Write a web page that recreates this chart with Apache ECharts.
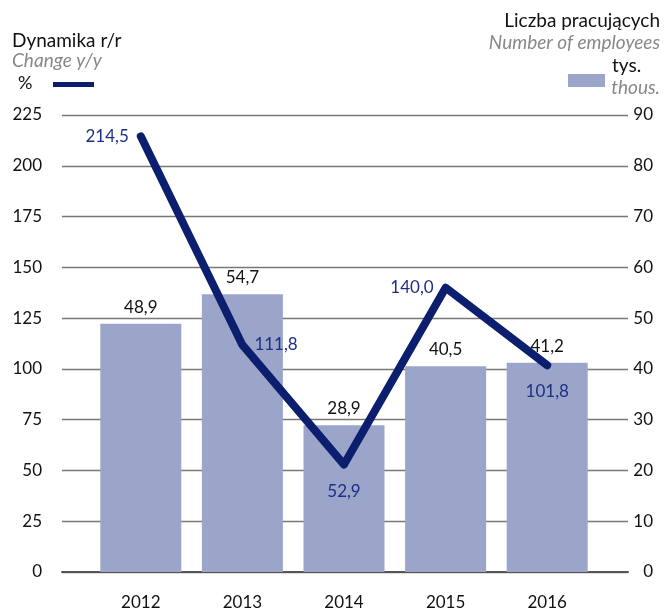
<!DOCTYPE html>
<html>
<head>
<meta charset="utf-8">
<script src="https://cdn.jsdelivr.net/npm/echarts@6/dist/echarts.min.js"></script>
<style>
  html, body { margin: 0; padding: 0; background: #fff; }
  #chart { width: 666px; height: 611px; }
</style>
</head>
<body>
<div id="chart"></div>
<script>
  var years = ['2012', '2013', '2014', '2015', '2016'];
  // liczba pracujących, tys.
  var employees = [48.9, 54.7, 28.9, 40.5, 41.2];
  // dynamika r/r, %
  var changeYY = [214.5, 111.8, 52.9, 140.0, 101.8];
  // pozycje etykiet linii
  var linePos = ['left', 'right', 'bottom', 'left', 'bottom'];

  var FONT = 'Lato';
  var navy = '#0c1f6e';
  var barColor = '#9aa5c9';

  var chart = echarts.init(document.getElementById('chart'));

  function pl(v) { return v.toFixed(1).replace('.', ','); }

  var lineData = changeYY.map(function (v, i) {
    return {
      value: v,
      label: { position: linePos[i], distance: linePos[i] === 'bottom' ? 17 : 11 }
    };
  });

  var option = {
    animation: false,
    textStyle: { fontFamily: FONT },
    grid: [
      { left: 62, right: 38, top: 115, bottom: 39 },
      { left: 90, right: 68, top: 115, bottom: 39 }
    ],
    xAxis: [
      {
        gridIndex: 0, type: 'value', min: 0, max: 1,
        axisLine: { show: true, lineStyle: { color: '#555', width: 2 } },
        axisTick: { show: false }, axisLabel: { show: false }, splitLine: { show: false }
      },
      {
        gridIndex: 1, type: 'category', data: years,
        axisLine: { show: false }, axisTick: { show: false },
        axisLabel: { color: '#111', fontSize: 17, margin: 22, fontFamily: FONT }
      }
    ],
    yAxis: [
      {
        gridIndex: 0, type: 'value', min: 0, max: 225, interval: 25,
        axisLine: { show: false }, axisTick: { show: false },
        axisLabel: { color: '#111', fontSize: 17, margin: 20, fontFamily: FONT },
        splitLine: { lineStyle: { color: '#777', width: 1.3 } }
      },
      {
        gridIndex: 0, type: 'value', min: 0, max: 90, interval: 10, position: 'right',
        axisLine: { show: false }, axisTick: { show: false },
        axisLabel: { color: '#111', fontSize: 17, margin: 25, align: 'right', fontFamily: FONT },
        splitLine: { show: false }
      },
      { gridIndex: 1, type: 'value', min: 0, max: 225, show: false },
      { gridIndex: 1, type: 'value', min: 0, max: 90, show: false }
    ],
    series: [
      {
        type: 'bar',
        xAxisIndex: 1, yAxisIndex: 3,
        data: employees,
        barWidth: 81,
        itemStyle: { color: barColor },
        label: {
          show: true, position: 'top', distance: 8,
          color: '#111', fontSize: 17, fontFamily: FONT,
          formatter: function (p) { return pl(p.value); }
        },
        z: 2
      },
      {
        type: 'line',
        xAxisIndex: 1, yAxisIndex: 2,
        data: lineData,
        symbol: 'circle',
        symbolSize: 2,
        itemStyle: { color: navy },
        lineStyle: { color: navy, width: 8, cap: 'round', join: 'round' },
        label: {
          show: true, color: '#1d2f85', fontSize: 17, fontFamily: FONT,
          formatter: function (p) { return pl(p.value); }
        },
        z: 3
      }
    ],
    graphic: [
      { type: 'text', left: 12, top: 31, style: { text: 'Dynamika r/r', font: '19px ' + FONT, fill: '#111' } },
      { type: 'text', left: 12, top: 51, style: { text: 'Change y/y', font: 'italic 19px ' + FONT, fill: '#888' } },
      { type: 'text', left: 18, top: 74, style: { text: '%', font: '18px ' + FONT, fill: '#111' } },
      { type: 'rect', shape: { x: 53, y: 82, width: 41, height: 5 }, style: { fill: navy } },
      { type: 'text', right: 6, top: 11, style: { text: 'Liczba pracujących', font: '19px ' + FONT, fill: '#111', align: 'right' } },
      { type: 'text', right: 6, top: 33, style: { text: 'Number of employees', font: 'italic 19px ' + FONT, fill: '#888', align: 'right' } },
      { type: 'rect', shape: { x: 568, y: 74, width: 37, height: 13 }, style: { fill: barColor } },
      { type: 'text', left: 612, top: 56, style: { text: 'tys.', font: '19px ' + FONT, fill: '#111' } },
      { type: 'text', right: 6, top: 78, style: { text: 'thous.', font: 'italic 19px ' + FONT, fill: '#888', align: 'right' } }
    ]
  };

  chart.setOption(option);
</script>
</body>
</html>
